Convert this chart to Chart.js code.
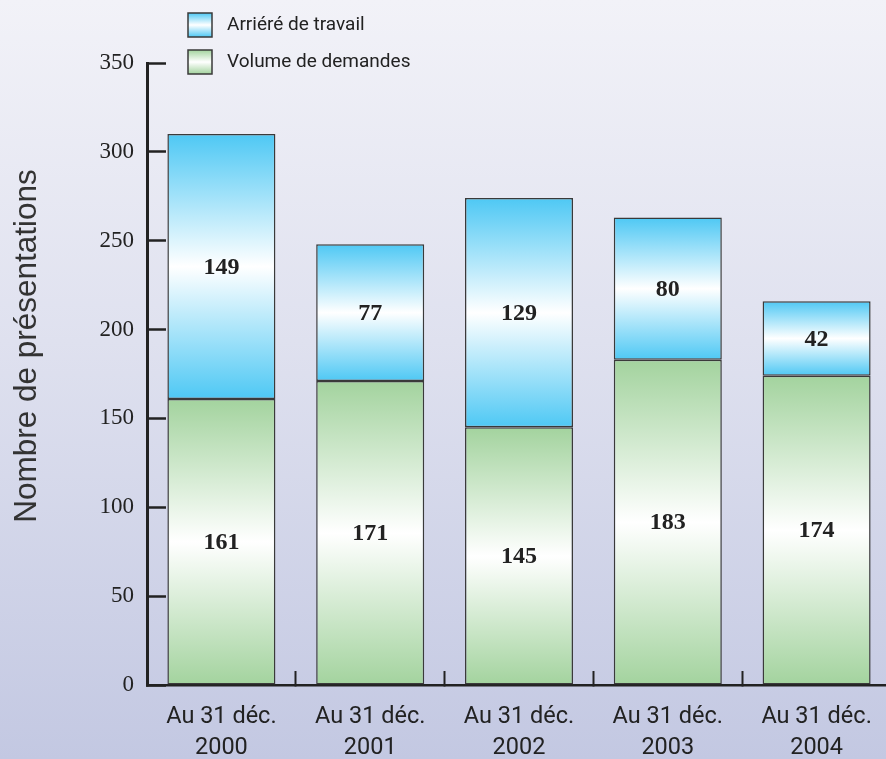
<!DOCTYPE html>
<html lang="fr">
<head>
<meta charset="utf-8">
<title>Nombre de présentations</title>
<script src="https://cdn.jsdelivr.net/npm/chart.js@4.4.1/dist/chart.umd.min.js"></script>
<style>
  html, body { margin: 0; padding: 0; overflow: hidden; }
  body {
    width: 886px; height: 759px;
    background: linear-gradient(to bottom, #f2f2f8 0%, #dfe1ef 45%, #c3c8e2 100%);
  }
  canvas { display: block; }
</style>
</head>
<body>
<canvas id="chart" width="891" height="759"></canvas>
<script>
// Catégories (fin d'année) et séries empilées
const categories = [
  ['Au 31 déc.', '2000'],
  ['Au 31 déc.', '2001'],
  ['Au 31 déc.', '2002'],
  ['Au 31 déc.', '2003'],
  ['Au 31 déc.', '2004']
];
const volumeDemandes = [161, 171, 145, 183, 174];
const arriereTravail = [149, 77, 129, 80, 42];
const yTicks = [0, 50, 100, 150, 200, 250, 300, 350];

const seriesNames = ['Volume de demandes', 'Arriéré de travail'];
const GREEN = '#a3d39e';
const BLUE = '#4ec8f4';
const INK = '#222222';

// Dégradé vertical couleur → blanc → couleur pour chaque segment de barre
function segmentFill(ctx, edge) {
  if (ctx.type !== 'data') return edge;
  const chart = ctx.chart;
  const y = chart.scales.y;
  if (!y) return edge;
  const i = ctx.dataIndex;
  let lo = 0;
  for (let k = 0; k < ctx.datasetIndex; k++) lo += chart.data.datasets[k].data[i];
  const hi = lo + chart.data.datasets[ctx.datasetIndex].data[i];
  const p0 = y.getPixelForValue(lo), p1 = y.getPixelForValue(hi);
  if (!isFinite(p0) || !isFinite(p1) || p0 === p1) return edge;
  const g = chart.ctx.createLinearGradient(0, p1, 0, p0);
  g.addColorStop(0, edge);
  g.addColorStop(0.5, '#ffffff');
  g.addColorStop(1, edge);
  return g;
}

// Valeurs écrites au centre de chaque segment
const segmentLabels = {
  id: 'segmentLabels',
  afterDatasetsDraw(chart) {
    const c = chart.ctx;
    c.save();
    c.font = 'bold 24px "Liberation Serif", "DejaVu Serif", serif';
    c.fillStyle = INK;
    c.textAlign = 'center';
    c.textBaseline = 'middle';
    chart.data.datasets.forEach((ds, d) => {
      chart.getDatasetMeta(d).data.forEach((bar, i) => {
        const { x, y, base } = bar.getProps(['x', 'y', 'base'], true);
        c.fillText(String(ds.data[i]), x, (y + base) / 2 + 1);
      });
    });
    c.restore();
  }
};

// Légende (cases en dégradé) et titre vertical de l'axe
const decorations = {
  id: 'decorations',
  afterDraw(chart) {
    const c = chart.ctx;
    c.save();
    const items = [
      { text: seriesNames[1], color: BLUE, top: 13 },
      { text: seriesNames[0], color: GREEN, top: 50 }
    ];
    items.forEach(it => {
      const g = c.createLinearGradient(0, it.top, 0, it.top + 24);
      g.addColorStop(0, it.color);
      g.addColorStop(0.5, '#ffffff');
      g.addColorStop(1, it.color);
      c.fillStyle = g;
      c.fillRect(188, it.top, 24, 24);
      c.strokeStyle = '#3a3a3a';
      c.lineWidth = 1.5;
      c.strokeRect(188, it.top, 24, 24);
      c.fillStyle = INK;
      c.font = '19px Roboto, "Liberation Sans", sans-serif';
      c.textAlign = 'left';
      c.textBaseline = 'middle';
      c.fillText(it.text, 227, it.top + 12);
    });

    c.translate(36, 346);
    c.rotate(-Math.PI / 2);
    c.font = '31.5px "Liberation Sans", Arial, sans-serif';
    c.fillStyle = '#333333';
    c.textAlign = 'center';
    c.textBaseline = 'alphabetic';
    c.fillText('Nombre de présentations', 0, 0);
    c.restore();
  }
};

new Chart(document.getElementById('chart'), {
  type: 'bar',
  data: {
    labels: categories,
    datasets: [
      {
        label: seriesNames[0],
        data: volumeDemandes,
        backgroundColor: ctx => segmentFill(ctx, GREEN),
        borderColor: '#3a3a3a',
        borderWidth: 1.5,
        borderSkipped: false
      },
      {
        label: seriesNames[1],
        data: arriereTravail,
        backgroundColor: ctx => segmentFill(ctx, BLUE),
        borderColor: '#3a3a3a',
        borderWidth: 1.5,
        borderSkipped: false
      }
    ]
  },
  options: {
    responsive: false,
    animation: false,
    events: [],
    layout: { padding: { top: 63, right: 0, bottom: 0, left: 0 } },
    datasets: { bar: { barPercentage: 0.726, categoryPercentage: 1 } },
    plugins: {
      legend: { display: false },
      tooltip: { enabled: false },
      title: { display: false }
    },
    scales: {
      x: {
        stacked: true,
        grid: {
          offset: true,
          drawOnChartArea: false,
          drawTicks: true,
          tickLength: -14,
          tickWidth: 2,
          tickColor: INK
        },
        border: { display: true, color: INK, width: 2.5 },
        ticks: {
          color: INK,
          padding: 31,
          maxRotation: 0,
          font: { family: 'Roboto, "Liberation Sans", sans-serif', size: 23.5, lineHeight: 1.3 }
        },
        afterFit(scale) {
          scale.height = 74;
          // the axis runs to the canvas edge; no side padding for labels
          scale.paddingLeft = 0;
          scale.paddingRight = 0;
        }
      },
      y: {
        stacked: true,
        min: yTicks[0],
        max: yTicks[yTicks.length - 1],
        afterBuildTicks(scale) { scale.ticks = yTicks.map(v => ({ value: v })); },
        grid: {
          drawOnChartArea: false,
          drawTicks: true,
          tickLength: -19,
          tickWidth: 2.5,
          tickColor: INK
        },
        border: { display: true, color: INK, width: 3 },
        ticks: {
          color: INK,
          padding: 32,
          font: { family: '"Liberation Serif", "DejaVu Serif", serif', size: 23 }
        },
        afterFit(scale) { scale.width = 147; }
      }
    }
  },
  plugins: [segmentLabels, decorations]
});
</script>
</body>
</html>
